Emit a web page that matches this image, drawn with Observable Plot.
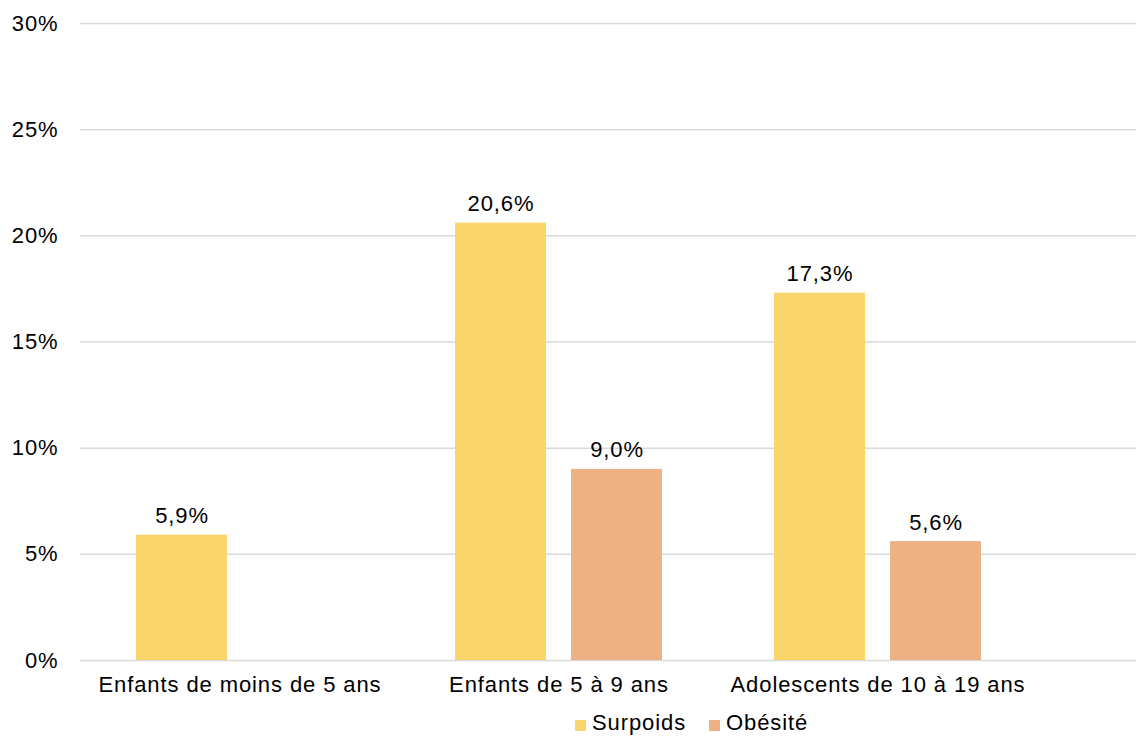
<!DOCTYPE html>
<html>
<head>
<meta charset="utf-8">
<script src="https://cdn.jsdelivr.net/npm/d3@7"></script>
<script src="https://cdn.jsdelivr.net/npm/@observablehq/plot@0.6"></script>
<style>
  body { margin: 0; background: #fff; font-family: "Liberation Sans", Arial, sans-serif; overflow: hidden; }
  #chart { width: 1136px; }
  #legend {
    display: flex; align-items: center; height: 28px; margin-top: 9px;
    padding-left: 575px; font-size: 22px; letter-spacing: 0.9px; color: #000;
  }
  #legend .item { display: flex; align-items: center; margin-right: 23px; }
  #legend .swatch { width: 11px; height: 11px; margin-right: 6px; margin-top: 4px; }
</style>
</head>
<body>
<div id="chart"></div>
<div id="legend"></div>
<script>
// Age groups and prevalence (%) of overweight and obesity
const categories = ["Enfants de moins de 5 ans", "Enfants de 5 à 9 ans", "Adolescents de 10 à 19 ans"];
const surpoids = [5.9, 20.6, 17.3];
const obesite = [null, 9.0, 5.6];
const seriesNames = ["Surpoids", "Obésité"];
const seriesColors = ["#F9D56B", "#EDB183"];
const yTicks = [0, 5, 10, 15, 20, 25, 30];

const fmtValue = d => d.toFixed(1).replace(".", ",") + "%";

const rowsSurpoids = categories.map((c, i) => ({category: c, value: surpoids[i]}));
const rowsObesite = categories
  .map((c, i) => ({category: c, value: obesite[i]}))
  .filter(d => d.value != null);

const chart = Plot.plot({
  width: 1136,
  height: 700,
  marginLeft: 80,
  marginRight: 0,
  marginTop: 23,
  marginBottom: 40,
  style: {
    fontFamily: '"Liberation Sans", Arial, sans-serif',
    fontSize: "22px",
    letterSpacing: "0.9px",
    color: "#000",
    background: "#fff"
  },
  x: {domain: categories, range: [80, 1037], padding: 0, label: null},
  y: {domain: [0, 30], label: null},
  marks: [
    Plot.gridY(yTicks, {stroke: "#d9d9d9", strokeOpacity: 1, strokeWidth: 1.5}),
    Plot.axisY({ticks: yTicks, tickFormat: d => d + "%", tickSize: 0, tickPadding: 22, label: null}),
    Plot.axisX({tickSize: 0, tickPadding: 16, label: null}),
    Plot.barY(rowsSurpoids, {x: "category", y: "value", fill: seriesColors[0], insetLeft: 56, insetRight: 172}),
    Plot.barY(rowsObesite, {x: "category", y: "value", fill: seriesColors[1], insetLeft: 172, insetRight: 56}),
    Plot.text(rowsSurpoids, {x: "category", y: "value", text: d => fmtValue(d.value), dx: -58, dy: -12, lineAnchor: "bottom", fill: "#000"}),
    Plot.text(rowsObesite, {x: "category", y: "value", text: d => fmtValue(d.value), dx: 58, dy: -12, lineAnchor: "bottom", fill: "#000"})
  ]
});
document.getElementById("chart").appendChild(chart);

// Legend below the chart
const legend = document.getElementById("legend");
seriesNames.forEach((name, i) => {
  const item = document.createElement("div");
  item.className = "item";
  const sw = document.createElement("span");
  sw.className = "swatch";
  sw.style.background = seriesColors[i];
  const label = document.createElement("span");
  label.textContent = name;
  item.appendChild(sw);
  item.appendChild(label);
  legend.appendChild(item);
});
</script>
</body>
</html>
